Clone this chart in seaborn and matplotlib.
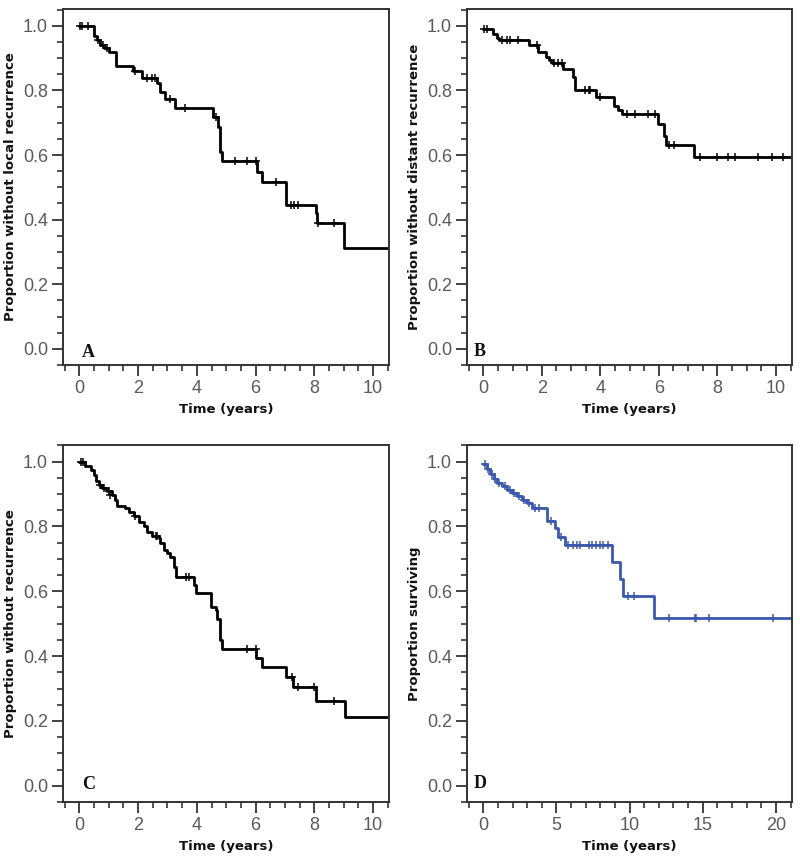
import numpy as np
import pandas as pd
import matplotlib
matplotlib.use('Agg')
import matplotlib.pyplot as plt
import seaborn as sns
from matplotlib.ticker import MultipleLocator, FormatStrFormatter

# Kaplan-Meier step data: (time of drop, level after drop)
A_time = [0, 0.51, 0.6, 0.7, 0.85, 1.0, 1.26, 1.84, 2.14, 2.65, 2.75, 2.9, 3.24, 4.55, 4.72,
          4.78, 4.85, 6.04, 6.23, 7.03, 8.05, 8.1, 9.02, 10.55]
A_surv = [1.0, 0.97, 0.955, 0.94, 0.93, 0.92, 0.877, 0.861, 0.838, 0.823, 0.795, 0.773, 0.745,
          0.719, 0.688, 0.608, 0.58, 0.546, 0.515, 0.446, 0.42, 0.391, 0.312, 0.312]
A_cens_t = [0.03, 0.1, 0.3, 0.65, 0.8, 0.95, 1.89, 2.31, 2.48, 2.59, 3.1, 3.6, 4.65, 5.29, 5.72,
            6.0, 6.69, 7.2, 7.3, 7.44, 8.12, 8.67]
A_cens_s = [1.0, 1.0, 1.0, 0.955, 0.94, 0.93, 0.861, 0.838, 0.838, 0.838, 0.773, 0.745, 0.719,
            0.58, 0.58, 0.58, 0.515, 0.446, 0.446, 0.446, 0.391, 0.391]

B_time = [0, 0.33, 0.47, 0.55, 1.55, 1.87, 2.14, 2.25, 2.34, 2.74, 3.08, 3.14, 3.86, 4.48, 4.62,
          4.73, 5.98, 6.19, 6.25, 7.21, 10.55]
B_surv = [0.99, 0.974, 0.962, 0.955, 0.941, 0.92, 0.905, 0.895, 0.884, 0.866, 0.843, 0.802,
          0.779, 0.752, 0.74, 0.727, 0.697, 0.66, 0.632, 0.595, 0.595]
B_cens_t = [0.01, 0.13, 0.64, 0.81, 0.92, 1.17, 1.83, 2.42, 2.57, 2.69, 3.48, 3.6, 3.65, 3.99,
            4.9, 5.19, 5.64, 5.87, 6.36, 6.52, 7.41, 7.97, 8.37, 8.6, 9.4, 9.85, 10.25]
B_cens_s = [0.99, 0.99, 0.955, 0.955, 0.955, 0.955, 0.941, 0.884, 0.884, 0.884, 0.802, 0.802,
            0.802, 0.779, 0.727, 0.727, 0.727, 0.727, 0.632, 0.632, 0.595, 0.595, 0.595, 0.595,
            0.595, 0.595, 0.595]

C_time = [0, 0.2, 0.38, 0.49, 0.55, 0.66, 0.77, 0.94, 1.11, 1.23, 1.29, 1.57, 1.68, 1.85, 2.02,
          2.19, 2.31, 2.48, 2.71, 2.76, 2.88, 2.99, 3.1, 3.22, 3.28, 3.9, 3.96, 4.49, 4.64, 4.7,
          4.78, 4.84, 6.0, 6.23, 7.03, 7.29, 8.05, 9.04, 10.55]
C_surv = [1.0, 0.985, 0.975, 0.96, 0.939, 0.929, 0.918, 0.908, 0.898, 0.882, 0.862, 0.857,
          0.846, 0.831, 0.815, 0.8, 0.784, 0.771, 0.764, 0.748, 0.728, 0.717, 0.707, 0.676,
          0.645, 0.619, 0.595, 0.552, 0.542, 0.516, 0.449, 0.421, 0.395, 0.366, 0.337, 0.304,
          0.263, 0.211, 0.211]
C_cens_t = [0.05, 0.12, 0.7, 0.85, 1.0, 1.05, 1.9, 2.6, 2.65, 3.62, 3.73, 5.72, 6.0, 7.24, 7.43,
            8.0, 8.67]
C_cens_s = [1.0, 1.0, 0.929, 0.918, 0.908, 0.898, 0.831, 0.771, 0.771, 0.645, 0.645, 0.421,
            0.421, 0.337, 0.304, 0.304, 0.263]

D_time = [0, 0.25, 0.48, 0.7, 0.93, 1.28, 1.62, 1.96, 2.3, 2.64, 2.98, 3.32, 4.35, 4.91, 5.14,
          5.6, 8.83, 9.35, 9.53, 11.67, 21.1]
D_surv = [0.992, 0.976, 0.961, 0.945, 0.935, 0.924, 0.914, 0.904, 0.893, 0.883, 0.873, 0.857,
          0.816, 0.795, 0.769, 0.743, 0.689, 0.637, 0.585, 0.519, 0.519]
D_cens_t = [0.1, 0.35, 0.6, 0.8, 1.1, 1.45, 1.8, 2.1, 2.45, 2.8, 3.1, 3.5, 3.8, 4.6, 5.3, 5.8,
            6.1, 6.4, 6.6, 7.2, 7.45, 7.7, 7.95, 8.15, 8.5, 9.9, 10.3, 12.7, 14.45, 14.55, 15.4,
            19.8]
D_cens_s = [0.992, 0.976, 0.961, 0.945, 0.935, 0.924, 0.914, 0.904, 0.893, 0.883, 0.873, 0.857,
            0.857, 0.816, 0.769, 0.743, 0.743, 0.743, 0.743, 0.743, 0.743, 0.743, 0.743, 0.743,
            0.743, 0.585, 0.585, 0.519, 0.519, 0.519, 0.519, 0.519]

ylabels = ['Proportion without local recurrence', 'Proportion without distant recurrence',
           'Proportion without recurrence', 'Proportion surviving']
letters = ['A', 'B', 'C', 'D']

sns.set_style('ticks')
# tick labels in Arial-like font, axis labels set explicitly below
plt.rcParams['font.family'] = ['Liberation Sans', 'DejaVu Sans']

fig = plt.figure(figsize=(8, 8.67), dpi=100)
positions = [[0.079, 0.579, 0.4075, 0.4106], [0.584, 0.579, 0.406, 0.4106],
             [0.079, 0.075, 0.4075, 0.412], [0.584, 0.075, 0.406, 0.412]]
panels = [(A_time, A_surv, A_cens_t, A_cens_s), (B_time, B_surv, B_cens_t, B_cens_s),
          (C_time, C_surv, C_cens_t, C_cens_s), (D_time, D_surv, D_cens_t, D_cens_s)]
letter_pos = [(0.077, 0.034), (0.037, 0.037), (0.077, 0.05), (0.04, 0.053)]
colors = ['black', 'black', 'black', '#3B58AE']

for i in range(4):
    ax = fig.add_axes(positions[i])
    t, s, ct, cs = panels[i]
    df = pd.DataFrame({'t': t, 's': s})
    sns.lineplot(data=df, x='t', y='s', drawstyle='steps-post', estimator=None, sort=False,
                 color=colors[i], linewidth=2.0, ax=ax)
    cdf = pd.DataFrame({'t': ct, 's': cs})
    sns.scatterplot(data=cdf, x='t', y='s', marker='+', s=28, color=colors[i],
                    linewidth=1.1, ax=ax, zorder=3)
    if i == 3:
        ax.set_xlim(-1.1, 21.1)
        ax.xaxis.set_major_locator(MultipleLocator(5))
        ax.xaxis.set_minor_locator(MultipleLocator(1))
    else:
        ax.set_xlim(-0.55, 10.55)
        ax.xaxis.set_major_locator(MultipleLocator(2))
        ax.xaxis.set_minor_locator(MultipleLocator(0.5))
    ax.set_ylim(-0.05, 1.052)
    ax.yaxis.set_major_locator(MultipleLocator(0.2))
    ax.yaxis.set_minor_locator(MultipleLocator(0.05))
    ax.yaxis.set_major_formatter(FormatStrFormatter('%.1f'))
    for sp in ax.spines.values():
        sp.set_visible(True)
        sp.set_linewidth(1.4)
        sp.set_color('#333333')
    ax.tick_params(which='major', direction='out', length=8, width=1.3, color='#333333',
                   labelcolor='#5a5a5a', labelsize=13, pad=3)
    ax.tick_params(which='minor', direction='out', length=4.5, width=1.2, color='#333333')
    ax.set_xlabel('Time (years)', fontsize=9.5, fontweight='bold', color='#111111',
                  labelpad=4, family='DejaVu Sans')
    ax.set_ylabel(ylabels[i], fontsize=9.5, fontweight='bold', color='#111111',
                  labelpad=4, family='DejaVu Sans')
    ax.text(letter_pos[i][0], letter_pos[i][1], letters[i], transform=ax.transAxes,
            ha='center', va='center', fontsize=13, fontweight='bold',
            family='Liberation Serif', color='#111111')

fig.savefig('out.png', dpi=100)
